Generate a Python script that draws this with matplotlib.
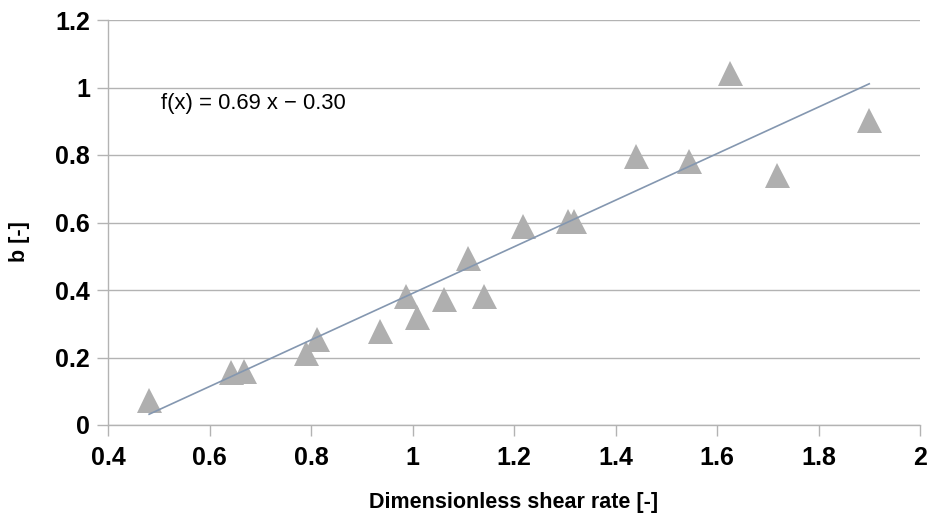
import matplotlib
matplotlib.use("Agg")
import matplotlib.pyplot as plt
import numpy as np

x_vals = [0.481, 0.643, 0.668, 0.790, 0.811, 0.935, 0.988, 1.008, 1.062, 1.110,
          1.141, 1.217, 1.306, 1.319, 1.440, 1.544, 1.626, 1.719, 1.900]
y_vals = [0.074, 0.158, 0.160, 0.212, 0.254, 0.278, 0.382, 0.319, 0.372, 0.495,
          0.382, 0.590, 0.603, 0.603, 0.796, 0.782, 1.044, 0.740, 0.904]
slope, intercept = 0.69, -0.30
x_ticks = [0.4, 0.6, 0.8, 1, 1.2, 1.4, 1.6, 1.8, 2]
x_tick_labels = ["0.4", "0.6", "0.8", "1", "1.2", "1.4", "1.6", "1.8", "2"]
y_ticks = [0, 0.2, 0.4, 0.6, 0.8, 1, 1.2]
y_tick_labels = ["0", "0.2", "0.4", "0.6", "0.8", "1", "1.2"]

plt.rcParams['font.family'] = ['Liberation Sans', 'DejaVu Sans']

fig = plt.figure(figsize=(9.32, 5.13), dpi=100)
ax = fig.add_axes([108/932, 1-425/513, (920-108)/932, (425-20)/513])

ax.set_xlim(0.4, 2)
ax.set_ylim(0, 1.2)

grid_c = '#b3b3b3'
ax.set_yticks(y_ticks)
ax.set_yticklabels(y_tick_labels, fontsize=18, fontweight='bold')
ax.set_xticks(x_ticks)
ax.set_xticklabels(x_tick_labels, fontsize=18, fontweight='bold')
ax.yaxis.grid(True, color=grid_c, linewidth=1)
ax.set_axisbelow(True)
for s in ['top', 'right']:
    ax.spines[s].set_visible(False)
for s in ['left', 'bottom']:
    ax.spines[s].set_color(grid_c)
    ax.spines[s].set_linewidth(1)
ax.tick_params(axis='y', color=grid_c, length=8, width=1, pad=5)
ax.tick_params(axis='x', color=grid_c, length=8, width=1, pad=7)

ax.plot(x_vals, y_vals, linestyle='none', marker='^', markersize=18,
        color='#afafaf', markeredgewidth=0, zorder=3)

xs = np.array([min(x_vals), max(x_vals)])
ax.plot(xs, slope*xs + intercept, color='#8497b0', linewidth=1.2, zorder=4)

ax.text(0.5045, 0.9515, "f(x) = 0.69 x \u2212 0.30", fontsize=15.8, color='black',
        ha='left', va='center')

ax.set_xlabel("Dimensionless shear rate [-]", fontsize=15.5, fontweight='bold', labelpad=16)
ax.set_ylabel("b [-]", fontsize=15.5, fontweight='bold', va='center')
ax.yaxis.set_label_coords((20-108)/812, (425-242)/405)

fig.savefig("out.png", dpi=100)
